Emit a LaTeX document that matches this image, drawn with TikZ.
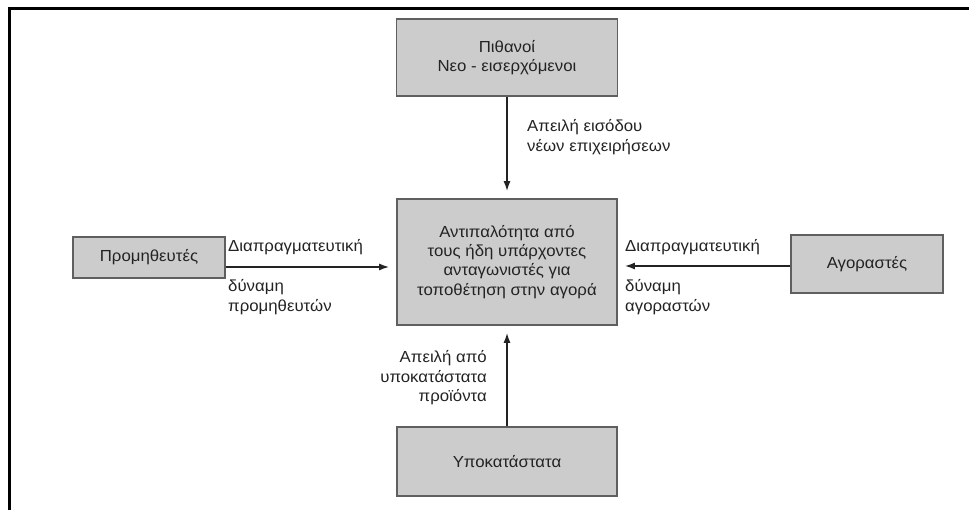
\documentclass[tikz,border=0pt]{standalone}
\usepackage{fontspec}
\setmainfont{Liberation Sans}[FakeStretch=1.05]
\usetikzlibrary{arrows.meta}
\definecolor{boxfill}{RGB}{204,204,204}
\definecolor{boxline}{RGB}{95,95,95}
\definecolor{ink}{RGB}{35,35,35}
\tikzset{
  x=1pt, y=-1pt,
  force/.style={draw=boxline, fill=boxfill, line width=1.6pt, inner sep=0pt,
    text=ink, align=center, font=\fontsize{16}{19.2}\selectfont},
  lbl/.style={inner sep=0pt, text=ink, font=\fontsize{16}{19.5}\selectfont},
  flow/.style={draw=ink, line width=1.6pt, -{Latex[length=10pt,width=7pt]}, shorten >=7pt}
}
\begin{document}
\begin{tikzpicture}
\useasboundingbox (0,0) rectangle (969,510);
% open frame (top and left edges)
\draw[line width=3pt, line cap=rect] (969,9) -- (9,9) -- (9,510);

% the five forces
\node[force, minimum width=221pt, minimum height=77pt] (entrants) at (507,57.5)
  {Πιθανοί\\Νεο - εισερχόμενοι};
\node[force, minimum width=220pt, minimum height=126pt] (rivalry) at (507,262)
  {Αντιπαλότητα από\\τους ήδη υπάρχοντες\\ανταγωνιστές για\\τοποθέτηση στην αγορά};
\node[force, minimum width=152pt, minimum height=41pt] (suppliers) at (149,257.5)
  {Προμηθευτές};
\node[force, minimum width=152pt, minimum height=58pt] (buyers) at (867,264)
  {Αγοραστές};
\node[force, minimum width=220pt, minimum height=69pt] (substitutes) at (507,461.5)
  {Υποκατάστατα};

% pressures on the industry
\draw[flow] (entrants.south) -- (rivalry.north);
\draw[flow] ([yshift=-9.5pt]suppliers.east) -- (rivalry.west |- 0,267);
\draw[flow] ([yshift=-2pt]buyers.west) -- (rivalry.east |- 0,266);
\draw[flow] (substitutes.north) -- (rivalry.south);

% labels
\node[lbl, anchor=west, align=left] (lentry) at (527,137)
  {Απειλή εισόδου\\νέων επιχειρήσεων};
\node[lbl, anchor=west] (lsupA) at (228,247) {Διαπραγματευτική};
\node[lbl, anchor=west, align=left] (lsupB) at (228,297) {δύναμη\\προμηθευτών};
\node[lbl, anchor=west] (lbuyA) at (625,247) {Διαπραγματευτική};
\node[lbl, anchor=west, align=left] (lbuyB) at (625,297) {δύναμη\\αγοραστών};
\node[lbl, anchor=east, align=right] (lsub) at (487,378)
  {Απειλή από\\υποκατάστατα\\προϊόντα};
\end{tikzpicture}
\end{document}
